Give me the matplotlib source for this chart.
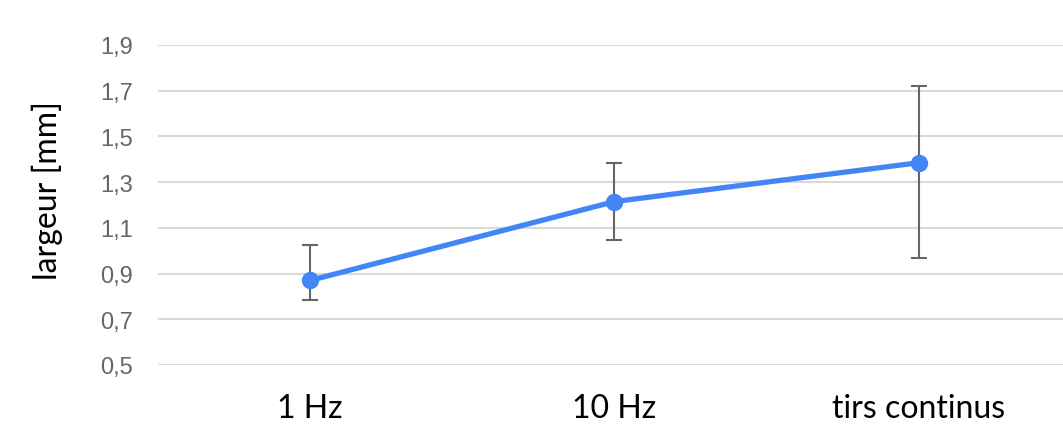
import numpy as np
import matplotlib.pyplot as plt

# Données
categories = ["1 Hz", "10 Hz", "tirs continus"]
largeur = [0.87, 1.215, 1.385]
err_bas = [0.785, 1.045, 0.967]
err_haut = [1.027, 1.383, 1.72]
yticks = [0.5, 0.7, 0.9, 1.1, 1.3, 1.5, 1.7, 1.9]

fig = plt.figure(figsize=(10.63, 4.27), dpi=100)
ax = fig.add_axes([158 / 1063, (427 - 366) / 427, (1063 - 158) / 1063, 320 / 427])

x = np.arange(len(categories))
y = np.array(largeur)
yerr = np.array([y - np.array(err_bas), np.array(err_haut) - y])

ax.errorbar(x, y, yerr=yerr, fmt='none', ecolor='#666666', elinewidth=1.5,
            capsize=6, capthick=1.5, zorder=2)
ax.plot(x, y, '-o', color='#4285F4', linewidth=3.8, markersize=11.5, zorder=3)

ax.set_xlim(-0.5, 2.474)
ax.set_ylim(0.5, 1.9)
ax.set_yticks(yticks)
ax.set_yticklabels([f"{v:.1f}".replace('.', ',') for v in yticks],
                   fontsize=17, color='#666666', family='Liberation Sans')
ax.set_xticks(x)
ax.set_xticklabels(categories, fontsize=23, family='Lato', color='black')
ax.tick_params(axis='both', length=0)
ax.tick_params(axis='y', pad=18)
ax.tick_params(axis='x', pad=20)

ax.grid(axis='y', color='#d9d9d9', linewidth=1.5)
ax.set_axisbelow(True)
for s in ax.spines.values():
    s.set_visible(False)

fig.text(47 / 1063, 1 - 191 / 427, "largeur [mm]", rotation=90, fontsize=23,
         family='Lato', ha='center', va='center')

fig.savefig("out.png", dpi=100)
